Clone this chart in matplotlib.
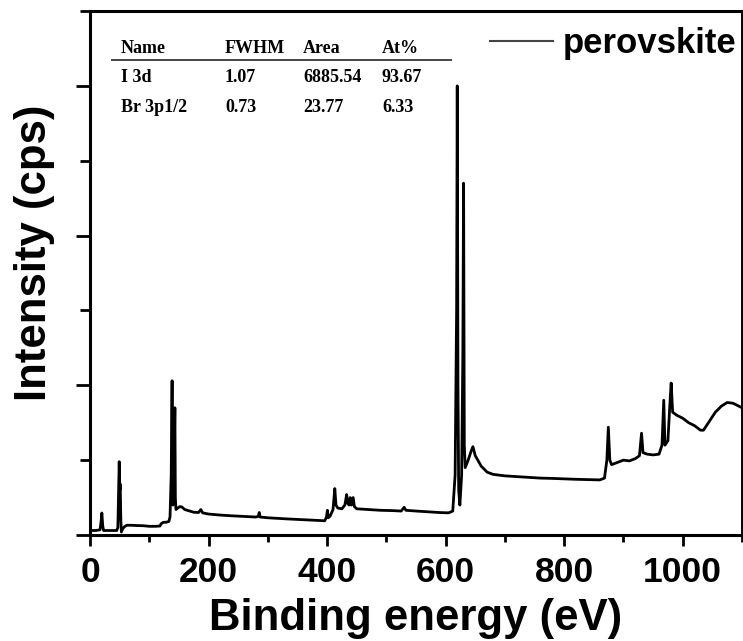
import matplotlib
matplotlib.use("Agg")
import matplotlib.pyplot as plt
from matplotlib.ticker import MultipleLocator, NullFormatter

# Binding energy (eV) and intensity (arbitrary units)
energy = [0, 10, 17, 19, 20, 21.5, 23, 30, 45, 47, 48.5, 49.3, 50.2, 51, 52, 53,
          55, 58, 62, 70, 80, 90, 100, 110, 118, 120, 124, 128, 133, 135, 137,
          138.5, 139.3, 140, 142, 143.2, 144, 145, 148, 152, 155, 160, 168, 175,
          183, 187, 190, 200, 220, 240, 260, 280, 284, 285.5, 287, 300, 330, 360,
          380, 396, 399, 400.5, 402, 405, 410, 413, 415, 418, 425, 430, 433, 435,
          437, 439, 441, 444, 446, 450, 470, 490, 510, 525, 530, 533, 550, 570,
          590, 605, 612, 616, 618.5, 619.6, 620.8, 622, 624, 627, 629, 630.3,
          631.5, 633, 638, 643, 646, 650, 660, 670, 680, 700, 720, 740, 760, 780,
          800, 820, 840, 860, 868, 872, 874.5, 877, 880, 890, 900, 910, 920, 927,
          930.5, 933, 940, 950, 960, 965, 968, 970, 975, 978, 980.5, 983, 990,
          1000, 1010, 1020, 1030, 1035, 1045, 1055, 1065, 1075, 1085, 1100]
intensity = [0.03, 0.03, 0.035, 0.10, 0.147, 0.06, 0.03, 0.03, 0.03, 0.05, 0.35,
             0.49, 0.30, 0.34, 0.10, 0.02, 0.04, 0.055, 0.065, 0.065, 0.063, 0.062,
             0.058, 0.058, 0.06, 0.075, 0.085, 0.085, 0.09, 0.12, 0.40, 1.03, 0.30,
             0.20, 0.50, 0.85, 0.25, 0.17, 0.18, 0.19, 0.187, 0.17, 0.16, 0.152,
             0.15, 0.17, 0.148, 0.14, 0.133, 0.128, 0.124, 0.12, 0.125, 0.15, 0.12,
             0.115, 0.108, 0.102, 0.098, 0.095, 0.12, 0.165, 0.115, 0.125, 0.17,
             0.31, 0.20, 0.18, 0.175, 0.20, 0.27, 0.21, 0.20, 0.25, 0.20, 0.25,
             0.19, 0.175, 0.17, 0.165, 0.163, 0.16, 0.185, 0.165, 0.16, 0.155,
             0.15, 0.148, 0.16, 0.40, 1.50, 3.00, 1.00, 0.30, 0.20, 0.40, 1.20,
             2.35, 0.60, 0.45, 0.50, 0.56, 0.59, 0.53, 0.46, 0.42, 0.405, 0.395,
             0.39, 0.385, 0.38, 0.378, 0.375, 0.372, 0.37, 0.368, 0.38, 0.50, 0.72,
             0.50, 0.47, 0.485, 0.50, 0.495, 0.51, 0.53, 0.68, 0.55, 0.54, 0.535,
             0.54, 0.60, 0.90, 0.60, 0.63, 0.85, 1.015, 0.82, 0.80, 0.78, 0.75,
             0.73, 0.70, 0.70, 0.76, 0.82, 0.86, 0.885, 0.88, 0.85]

series_label = "perovskite"
table_header = ["Name", "FWHM", "Area", "At%"]
table_rows = [["I 3d", "1.07", "6885.54", "93.67"],
              ["Br 3p1/2", "0.73", "23.77", "6.33"]]
xticks = [0, 200, 400, 600, 800, 1000]

SANS = "Liberation Sans"
SERIF = "Liberation Serif"

fig = plt.figure(figsize=(7.43, 6.41), dpi=100)
ax = fig.add_axes([90/743, 1-535/641, 652/743, 524/641])

ax.plot(energy, intensity, color="black", lw=2.0, label=series_label)
ax.set_xlim(0, 1100)
ax.set_ylim(0, 3.5)

ax.set_xticks(xticks)
ax.xaxis.set_minor_locator(MultipleLocator(100))
ax.yaxis.set_major_locator(MultipleLocator(1))
ax.yaxis.set_minor_locator(MultipleLocator(0.5))
ax.yaxis.set_major_formatter(NullFormatter())

for s in ["left", "bottom", "top"]:
    ax.spines[s].set_linewidth(2.2)
ax.spines["right"].set_linewidth(1.4)

ax.tick_params(axis="x", which="major", length=8, width=2, direction="out", pad=7)
ax.tick_params(axis="x", which="minor", length=5, width=2, direction="out")
ax.tick_params(axis="y", which="major", length=10, width=2, direction="out")
ax.tick_params(axis="y", which="minor", length=7, width=2, direction="out")
for lab in ax.get_xticklabels():
    lab.set_fontfamily(SANS)
    lab.set_fontweight("bold")
    lab.set_fontsize(25.5)

ax.set_xlabel("Binding energy (eV)", fontfamily=SANS, fontweight="bold", fontsize=31.5)
ax.xaxis.set_label_coords(0.5, (535 - 598) / 524)
ax.set_ylabel("Intensity (cps)", fontfamily=SANS, fontweight="bold", fontsize=31.5)
ax.yaxis.set_label_coords((55 - 90) / 652, (535 - 253) / 524)

# Inset table
col_x = [121, 225, 303, 382]
row_base = [53, 82, 112]
def px2ax(x, y):
    return ((x - 90) / 652, (535 - y) / 524)
for j, t in enumerate(table_header):
    ax.text(*px2ax(col_x[j], row_base[0]), t, transform=ax.transAxes, ha="left",
            va="baseline", fontfamily=SERIF, fontweight="bold", fontsize=13)
for i, row in enumerate(table_rows):
    for j, t in enumerate(row):
        ax.text(*px2ax(col_x[j], row_base[i+1]), t, transform=ax.transAxes, ha="left",
                va="baseline", fontfamily=SERIF, fontweight="bold", fontsize=13)
x0, yl = px2ax(112, 60)
x1, _ = px2ax(451, 60)
ax.plot([x0, x1], [yl, yl], transform=ax.transAxes, color="#444444", lw=1.4)

leg = ax.legend(loc="upper right", bbox_to_anchor=(1.0, 0.98), frameon=False,
                handlelength=1.8, handletextpad=0.3, borderaxespad=0.0, borderpad=0.15,
                prop={"family": SANS, "weight": "bold", "size": 25})
for h in leg.get_lines():
    h.set_color("#444444")
    h.set_linewidth(1.5)

fig.savefig("out.png", dpi=100)
